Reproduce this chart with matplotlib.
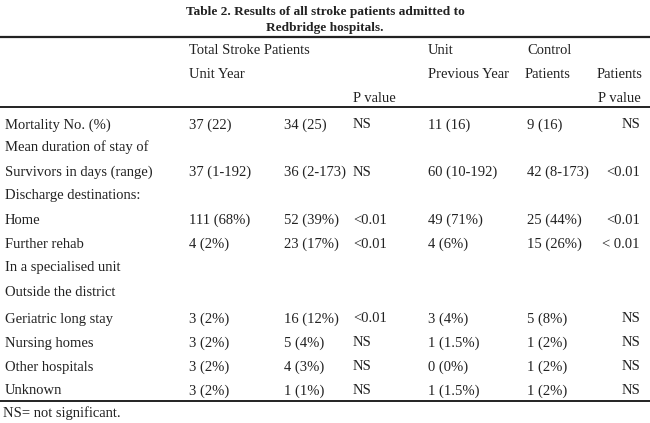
import matplotlib
matplotlib.use('Agg')
import matplotlib.pyplot as plt

plt.rcParams['font.family'] = ['Liberation Serif', 'DejaVu Serif']

title = ["Table 2. Results of all stroke patients admitted to",
         "Redbridge hospitals."]

row_labels = ["Mortality No. (%)",
              "Mean duration of stay of",
              "Survivors in days (range)",
              "Discharge destinations:",
              "Home",
              "Further rehab",
              "In a specialised unit",
              "Outside the district",
              "Geriatric long stay",
              "Nursing homes",
              "Other hospitals",
              "Unknown"]

unit_year = ["37 (22)", "", "37 (1-192)", "", "111 (68%)", "4 (2%)", "", "",
             "3 (2%)", "3 (2%)", "3 (2%)", "3 (2%)"]
total_col2 = ["34 (25)", "", "36 (2-173)", "", "52 (39%)", "23 (17%)", "", "",
              "16 (12%)", "5 (4%)", "4 (3%)", "1 (1%)"]
p_value1 = ["NS", "", "NS", "", "<0.01", "<0.01", "", "",
            "<0.01", "NS", "NS", "NS"]
unit_prev = ["11 (16)", "", "60 (10-192)", "", "49 (71%)", "4 (6%)", "", "",
             "3 (4%)", "1 (1.5%)", "0 (0%)", "1 (1.5%)"]
control = ["9 (16)", "", "42 (8-173)", "", "25 (44%)", "15 (26%)", "", "",
           "5 (8%)", "1 (2%)", "1 (2%)", "1 (2%)"]
p_value2 = ["NS", "", "<0.01", "", "<0.01", "< 0.01", "", "",
            "NS", "NS", "NS", "NS"]

footnote = "NS= not significant."

row_y = [124, 147, 171, 195, 219, 243, 267, 291, 318, 342, 366, 390]
col_x = [189, 284, 353, 428, 527]

fig = plt.figure(figsize=(6.5, 4.23), dpi=100)
ax = fig.add_axes([0, 0, 1, 1])
ax.set_xlim(0, 650)
ax.set_ylim(423, 0)
ax.axis('off')

fs = 10.5
col = '#222222'
off = 4.5  # center -> baseline


def put(x, y, s, **kw):
    ax.text(x, y + off, s, va='baseline', fontsize=kw.pop('fontsize', fs), color=col, **kw)


put(325, 10, title[0], ha='center', fontsize=9.6, weight='bold')
put(325, 26, title[1], ha='center', fontsize=9.6, weight='bold')

for y, lw in [(37, 1.6), (107, 1.4), (401, 1.4)]:
    ax.plot([0, 650], [y, y], color=col, lw=lw)

# header
put(189, 49, "Total Stroke Patients")
put(428, 49, "Unit")
put(527, 49, "Control")
put(189, 74, "Unit Year")
put(428, 74, "Previous Year")
put(525, 74, "Patients")
put(597, 74, "Patients")
put(353, 97, "P value")
put(598, 97, "P value")

columns = [unit_year, total_col2, p_value1, unit_prev, control]
for i, y in enumerate(row_y):
    put(5, y, row_labels[i])
    for x, vals in zip(col_x, columns):
        put(x, y, vals[i])
    put(640, y, p_value2[i], ha='right')

put(3, 412, footnote)

fig.savefig('out.png', dpi=100, facecolor='white')
